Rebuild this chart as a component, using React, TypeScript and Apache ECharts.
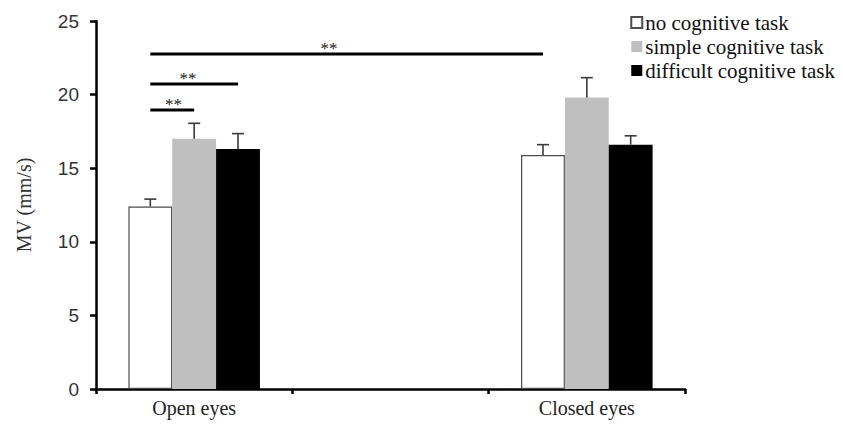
import React, { useEffect, useRef } from "react";
import * as echarts from "echarts";

const categories = ["Open eyes", "", "Closed eyes"];
const seriesNames = ["no cognitive task", "simple cognitive task", "difficult cognitive task"];
const noTask = [12.4, null, 15.9];
const simpleTask = [17.0, null, 19.8];
const difficultTask = [16.3, null, 16.6];
const noTaskErr = [0.5, null, 0.7];
const simpleTaskErr = [1.05, null, 1.35];
const difficultTaskErr = [1.05, null, 0.6];
const yTicks = { min: 0, max: 25, interval: 5 };
// [startCategory, startBar, endCategory, endBar, yValue, labelFraction]
const sigLines = [
  [0, 0, 2, 0, 22.76, 0.455],
  [0, 0, 0, 2, 20.72, 0.43],
  [0, 0, 0, 1, 18.95, 0.53],
];

const SERIF = "Liberation Serif";
const SANS = "Liberation Sans";
const GAP = 0.33;

export default function App() {
  const ref = useRef<HTMLDivElement>(null);
  useEffect(() => {
    document.body.style.margin = "0";
    const chart = echarts.init(ref.current!, null, { renderer: "svg" });
    const means = [noTask, simpleTask, difficultTask];
    const errs = [noTaskErr, simpleTaskErr, difficultTaskErr];
    const colors = ["#ffffff", "#bfbfbf", "#000000"];
    const borders = ["#4d4d4d", "#bfbfbf", "#000000"];

    const barSeries = means.map((m, s) => ({
      type: "bar",
      name: seriesNames[s],
      data: m.map((v) => (v == null ? "-" : v)),
      barGap: "0%",
      barCategoryGap: GAP * 100 + "%",
      itemStyle: { color: colors[s], borderColor: borders[s], borderWidth: s === 0 ? 1.2 : 0 },
      z: 2,
    }));

    const errSeries = means.map((m, s) => ({
      type: "custom",
      name: "err" + s,
      colorBy: "series",
      itemStyle: { color: "#3a3a3a" },
      data: m
        .map((v, i) => (v == null ? null : [i, v, errs[s][i]]))
        .filter((d) => d != null),
      encode: { x: 0, y: 1 },
      z: 3,
      silent: true,
      renderItem: (params: any, api: any) => {
        const ci = api.value(0);
        const v = api.value(1);
        const e = api.value(2);
        const w = api.size([1, 0])[0];
        const b = (w * (1 - GAP)) / 3;
        const base = api.coord([ci, v]);
        const top = api.coord([ci, v + e]);
        const x = base[0] + (s - 1) * b;
        const cap = 6;
        const st = { stroke: "#3a3a3a", lineWidth: 1.6, fill: null };
        return {
          type: "group",
          children: [
            { type: "line", shape: { x1: x, y1: base[1], x2: x, y2: top[1] }, style: st },
            { type: "line", shape: { x1: x - cap, y1: top[1], x2: x + cap, y2: top[1] }, style: st },
          ],
        };
      },
    }));

    const sigSeries = {
      type: "custom",
      name: "sig",
      colorBy: "series",
      itemStyle: { color: "#222" },
      data: sigLines,
      encode: { x: 0, y: 4 },
      z: 4,
      silent: true,
      renderItem: (params: any, api: any) => {
        const c0 = api.value(0);
        const b0 = api.value(1);
        const c1 = api.value(2);
        const b1 = api.value(3);
        const y = api.value(4);
        const f = api.value(5);
        const w = api.size([1, 0])[0];
        const b = (w * (1 - GAP)) / 3;
        const p0 = api.coord([c0, y]);
        const p1 = api.coord([c1, y]);
        const x0 = p0[0] + (b0 - 1) * b;
        const x1 = p1[0] + (b1 - 1) * b;
        const lx = x0 + (x1 - x0) * f;
        return {
          type: "group",
          children: [
            { type: "line", shape: { x1: x0, y1: p0[1], x2: x1, y2: p0[1] }, style: { stroke: "#000", lineWidth: 3 } },
            {
              type: "text",
              style: {
                text: "**",
                x: lx,
                y: p0[1] + 3,
                align: "center",
                verticalAlign: "bottom",
                fontSize: 17,
                fontFamily: SERIF,
                fill: "#1a1a1a",
              },
            },
          ],
        };
      },
    };

    chart.setOption({
      animation: false,
      textStyle: { fontFamily: SERIF },
      grid: { left: 96, right: 158, top: 21, bottom: 35, containLabel: false },
      legend: {
        data: seriesNames,
        orient: "vertical",
        right: 3,
        top: 7,
        itemWidth: 11,
        itemHeight: 11,
        itemGap: 3,
        icon: "rect",
        formatter: "{t|{name}}",
        textStyle: {
          fontFamily: SERIF,
          fontSize: 21,
          color: "#111",
          rich: { t: { fontFamily: SERIF, fontSize: 21, color: "#111", lineHeight: 20, padding: [0, 0, 0, -2] } },
        },
      },
      xAxis: {
        type: "category",
        data: categories,
        axisLine: { lineStyle: { color: "#000", width: 2.5 } },
        axisTick: { show: true, length: 5, lineStyle: { color: "#000", width: 2.5 } },
        axisLabel: { fontFamily: SERIF, fontSize: 20, color: "#222", margin: 9 },
      },
      yAxis: {
        type: "value",
        min: yTicks.min,
        max: yTicks.max,
        interval: yTicks.interval,
        name: "MV (mm/s)",
        nameLocation: "middle",
        nameGap: 62,
        nameTextStyle: { fontFamily: SERIF, fontSize: 20, color: "#333" },
        axisLine: { show: true, lineStyle: { color: "#000", width: 2.5 } },
        axisTick: { show: true, length: 6, lineStyle: { color: "#000", width: 2.5 } },
        axisLabel: { fontFamily: SANS, fontSize: 19, color: "#333", margin: 17 },
        splitLine: { show: false },
      },
      series: [...barSeries, ...errSeries, sigSeries],
    });
    return () => chart.dispose();
  }, []);
  return <div ref={ref} style={{ width: 843, height: 424 }} />;
}
